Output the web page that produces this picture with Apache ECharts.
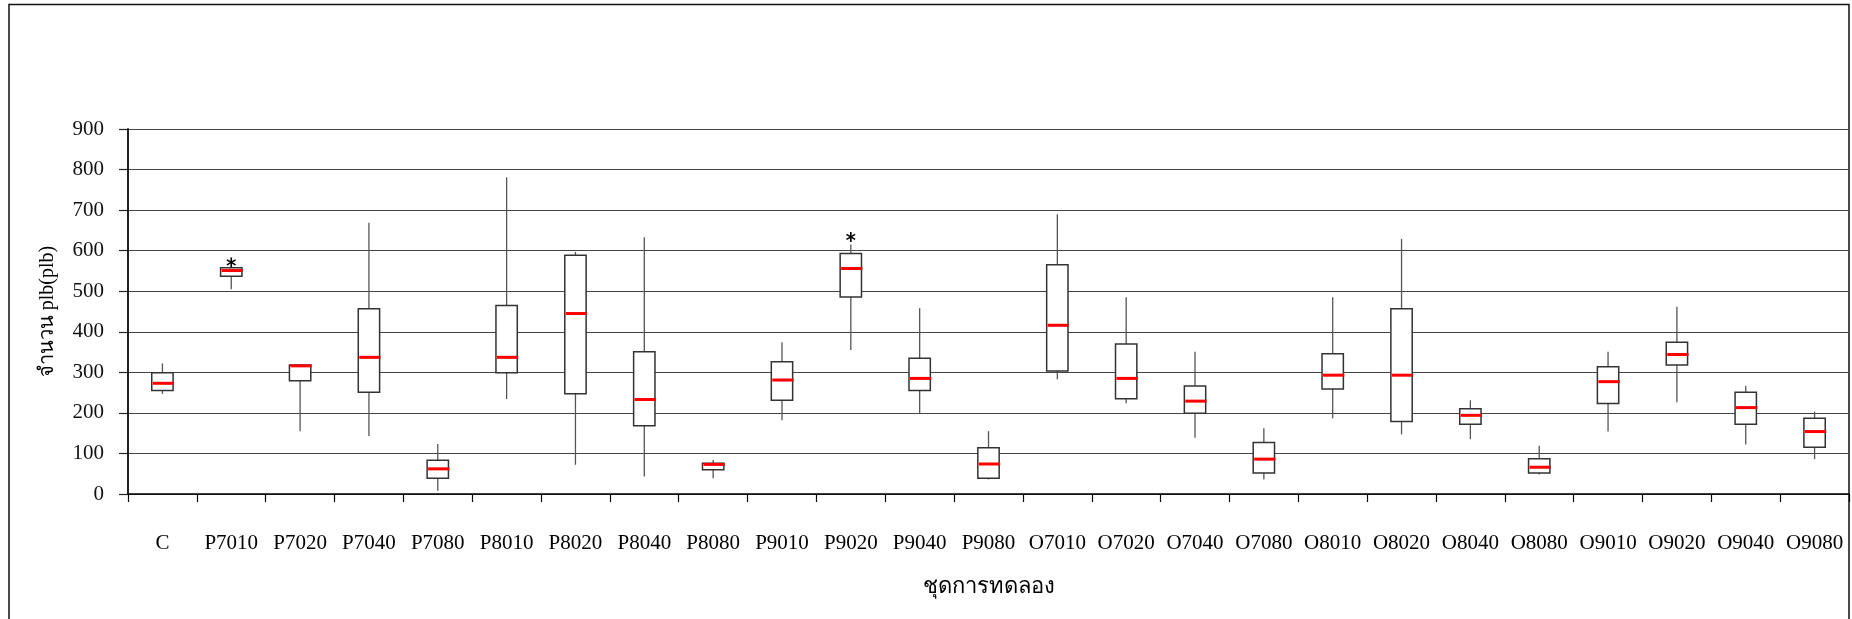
<!DOCTYPE html>
<html>
<head>
<meta charset="utf-8">
<title>plb boxplot</title>
<script src="https://cdn.jsdelivr.net/npm/echarts@6/dist/echarts.min.js"></script>
<style>
  html, body { margin: 0; padding: 0; background: #fff; }
  #chart { width: 1852px; height: 619px; }
</style>
</head>
<body>
<div id="chart"></div>
<script>
// treatment groups
const categories = ['C', 'P7010', 'P7020', 'P7040', 'P7080', 'P8010', 'P8020', 'P8040', 'P8080',
  'P9010', 'P9020', 'P9040', 'P9080', 'O7010', 'O7020', 'O7040', 'O7080', 'O8010', 'O8020',
  'O8040', 'O8080', 'O9010', 'O9020', 'O9040', 'O9080']

// box statistics
const whiskerLow = [247, 505, 155, 143, 8, 234, 72, 43, 39, 182, 355, 199, 36, 283, 224, 139, 36, 187, 147, 135, 48, 154, 226, 122, 86]
const quartile1 = [255, 537, 279, 251, 39, 299, 247, 168, 60, 231, 486, 255, 39, 303, 235, 199, 52, 259, 179, 172, 52, 223, 318, 172, 115]
const medians = [273, 551, 316, 337, 62, 337, 445, 233, 73, 281, 556, 285, 74, 416, 285, 229, 86, 293, 293, 194, 66, 277, 344, 213, 154]
const quartile3 = [299, 558, 318, 457, 83, 465, 589, 351, 76, 326, 593, 335, 114, 565, 370, 266, 127, 346, 457, 210, 87, 314, 374, 251, 187]
const whiskerHigh = [322, 558, 318, 669, 123, 781, 597, 633, 84, 374, 615, 458, 155, 690, 485, 351, 162, 485, 629, 231, 119, 351, 462, 267, 203]

// outliers (asterisks)
const outlierCats = ['P7010', 'P9020']
const outlierValues = [571, 634]

const yTicks = [0, 100, 200, 300, 400, 500, 600, 700, 800, 900]

const serif = "'Liberation Serif', 'Times New Roman', serif"

const boxData = categories.map((c, i) => [i, whiskerLow[i], quartile1[i], medians[i], quartile3[i], whiskerHigh[i]])
const outlierData = outlierCats.map((c, i) => [categories.indexOf(c), outlierValues[i]])

const chart = echarts.init(document.getElementById('chart'))
const option = {
  animation: false,
  backgroundColor: '#fff',
  grid: { left: 128, right: 3, top: 129, bottom: 125 },
  graphic: [{
    type: 'rect',
    shape: { x: 9, y: 4.5, width: 1840, height: 700 },
    style: { fill: 'none', stroke: '#111', lineWidth: 1.5 },
    silent: true
  }],
  xAxis: {
    type: 'category',
    data: categories,
    boundaryGap: true,
    name: 'ชุดการทดลอง',
    nameLocation: 'middle',
    nameGap: 82,
    nameTextStyle: { fontFamily: serif, fontSize: 22, color: '#000' },
    axisLine: { lineStyle: { color: '#000', width: 1.5 } },
    axisTick: { show: true, length: 8, lineStyle: { color: '#000', width: 1.2 } },
    axisLabel: { fontFamily: serif, fontSize: 21, color: '#000', margin: 39, interval: 0 },
    splitLine: { show: false }
  },
  yAxis: {
    type: 'value',
    min: yTicks[0],
    max: yTicks[yTicks.length - 1],
    interval: 100,
    name: 'จำนวน plb(plb)',
    nameLocation: 'middle',
    nameGap: 70,
    nameRotate: 90,
    nameTextStyle: { fontFamily: serif, fontSize: 20, color: '#000' },
    axisLine: { show: true, lineStyle: { color: '#222', width: 2 } },
    axisTick: { show: true, inside: false, length: 9, lineStyle: { color: '#222', width: 1.2 } },
    axisLabel: { fontFamily: serif, fontSize: 21, color: '#111', margin: 24 },
    splitLine: { show: true, lineStyle: { color: '#444', width: 1.2 } }
  },
  series: [
    {
      type: 'custom',
      name: 'box',
      data: boxData,
      encode: { x: 0, y: [1, 2, 3, 4, 5] },
      z: 3,
      renderItem (params, api) {
        const idx = api.value(0)
        const pLow = api.coord([idx, api.value(1)])
        const pQ1 = api.coord([idx, api.value(2)])
        const pMed = api.coord([idx, api.value(3)])
        const pQ3 = api.coord([idx, api.value(4)])
        const pHigh = api.coord([idx, api.value(5)])
        const w = api.size([1, 0])[0] * 0.31
        const x = pMed[0]
        const whisker = { stroke: '#555', lineWidth: 1.3 }
        return {
          type: 'group',
          children: [
            { type: 'line', shape: { x1: x, y1: pHigh[1], x2: x, y2: pQ3[1] }, style: whisker },
            { type: 'line', shape: { x1: x, y1: pQ1[1], x2: x, y2: pLow[1] }, style: whisker },
            {
              type: 'rect',
              shape: { x: x - w / 2, y: pQ3[1], width: w, height: pQ1[1] - pQ3[1] },
              style: { fill: '#fff', stroke: '#333', lineWidth: 1.5 }
            },
            {
              type: 'line',
              shape: { x1: x - w / 2 + 1, y1: pMed[1], x2: x + w / 2 + 1, y2: pMed[1] },
              style: { stroke: '#ff0000', lineWidth: 3 }
            }
          ]
        }
      }
    },
    {
      type: 'custom',
      name: 'outlier',
      data: outlierData,
      encode: { x: 0, y: 1 },
      z: 4,
      renderItem (params, api) {
        const p = api.coord([api.value(0), api.value(1)])
        const r = 5
        const st = { stroke: '#000', lineWidth: 1.6 }
        const arms = [90, 30, 150].map(a => {
          const rad = a * Math.PI / 180
          const dx = Math.cos(rad) * r
          const dy = Math.sin(rad) * r
          return { type: 'line', shape: { x1: p[0] - dx, y1: p[1] - dy, x2: p[0] + dx, y2: p[1] + dy }, style: st }
        })
        return { type: 'group', children: arms }
      }
    }
  ]
}
chart.setOption(option)
</script>
</body>
</html>
